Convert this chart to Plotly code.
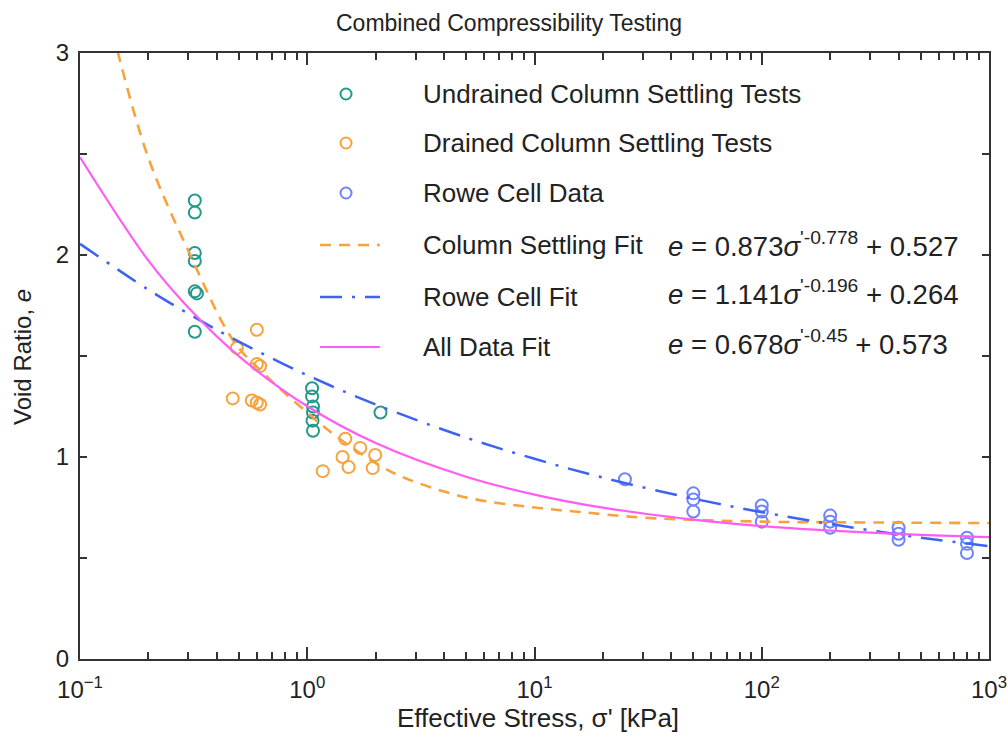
import plotly.graph_objects as go

# ---------------- data ----------------
undrained_sigma = [0.32, 0.32, 0.32, 0.32, 0.32, 0.327, 0.32,
                   1.05, 1.05, 1.06, 1.06, 1.055, 1.06, 2.1]
undrained_e = [2.27, 2.21, 2.01, 1.97, 1.82, 1.81, 1.62,
               1.34, 1.30, 1.25, 1.22, 1.18, 1.13, 1.22]

drained_sigma = [0.60, 0.49, 0.60, 0.62, 0.47, 0.57, 0.60, 0.62,
                 1.47, 1.71, 1.99, 1.43, 1.52, 1.94, 1.17]
drained_e = [1.63, 1.54, 1.46, 1.45, 1.29, 1.28, 1.27, 1.26,
             1.09, 1.045, 1.01, 1.00, 0.95, 0.945, 0.93]

rowe_sigma = [25, 50, 50, 50, 100, 100, 100, 200, 200, 200,
              400, 400, 400, 800, 800, 800]
rowe_e = [0.89, 0.82, 0.79, 0.73, 0.76, 0.73, 0.68, 0.71, 0.68, 0.65,
          0.65, 0.62, 0.59, 0.60, 0.57, 0.525]

col_fit_sigma = [0.14, 0.147, 0.2, 0.3, 0.47, 0.62, 1.0, 1.35, 2.0, 2.64,
                 5, 10, 15.8, 30, 100, 200, 1000]
col_fit_e = [3.1, 3.0, 2.48, 2.02, 1.58, 1.43, 1.22, 1.10, 0.97, 0.90,
             0.80, 0.75, 0.728, 0.70, 0.68, 0.677, 0.673]

fit_sigma = [0.1, 0.2, 0.3, 0.5, 1, 2, 5, 10, 20, 50, 100, 200, 500, 1000]
rowe_fit_e = [2.055, 1.828, 1.709, 1.571, 1.405, 1.260, 1.096, 0.991,
              0.898, 0.794, 0.727, 0.668, 0.601, 0.559]
all_fit_e = [2.484, 1.972, 1.739, 1.499, 1.251, 1.069, 0.902, 0.814,
             0.749, 0.690, 0.658, 0.636, 0.614, 0.603]

series_names = ["Undrained Column Settling Tests", "Drained Column Settling Tests",
                "Rowe Cell Data", "Column Settling Fit", "Rowe Cell Fit", "All Data Fit"]
eq_texts = ["<i>e</i> = 0.873<i>σ</i><sup>'-0.778</sup> + 0.527",
            "<i>e</i> = 1.141<i>σ</i><sup>'-0.196</sup> + 0.264",
            "<i>e</i> = 0.678<i>σ</i><sup>'-0.45</sup> + 0.573"]

x_major = [0.1, 1, 10, 100, 1000]
x_major_text = ["10<sup>−1</sup>", "10<sup>0</sup>", "10<sup>1</sup>",
                "10<sup>2</sup>", "10<sup>3</sup>"]
y_ticks = [0, 0.5, 1, 1.5, 2, 2.5, 3]
y_tick_text = ["0", "", "1", "", "2", "", "3"]

# ---------------- styling ----------------
TEAL = "#23998c"
ORANGE = "#f7a23c"
BLUE_PT = "#6f82ff"
BLUE_LN = "#3d63f0"
MAGENTA = "#ff5cf5"
FONT = "Liberation Sans, Arial, Helvetica, sans-serif"
TXT = "#222222"

L, R, T, B = 80, 989, 53, 659
def px(x):
    return (x - L) / (R - L)
def py(y):
    return (B - y) / (B - T)

fig = go.Figure()

mk = dict(symbol="circle-open", size=12, line=dict(width=2))
fig.add_trace(go.Scatter(x=undrained_sigma, y=undrained_e, mode="markers",
                         name=series_names[0], marker=dict(**mk, color=TEAL)))
fig.add_trace(go.Scatter(x=drained_sigma, y=drained_e, mode="markers",
                         name=series_names[1], marker=dict(**mk, color=ORANGE)))
fig.add_trace(go.Scatter(x=rowe_sigma, y=rowe_e, mode="markers",
                         name=series_names[2], marker=dict(**mk, color=BLUE_PT)))

line_styles = [dict(color=ORANGE, width=2.6, dash="11px,8px"),
               dict(color=BLUE_LN, width=2.5, dash="22px,10px,3px,10px"),
               dict(color=MAGENTA, width=2.2)]
fig.add_trace(go.Scatter(x=col_fit_sigma, y=col_fit_e, mode="lines", name=series_names[3],
                         line=dict(**line_styles[0], shape="spline")))
fig.add_trace(go.Scatter(x=fit_sigma, y=rowe_fit_e, mode="lines", name=series_names[4],
                         line=dict(**line_styles[1], shape="spline")))
fig.add_trace(go.Scatter(x=fit_sigma, y=all_fit_e, mode="lines", name=series_names[5],
                         line=dict(**line_styles[2], shape="spline")))

# ---------------- manual legend ----------------
row_y = [94, 143, 193, 245, 297, 347]
marker_colors = [TEAL, ORANGE, BLUE_PT]
shapes = []
for i in range(3):
    shapes.append(dict(type="circle", xref="paper", yref="paper",
                       xsizemode="pixel", ysizemode="pixel",
                       xanchor=px(346), yanchor=py(row_y[i]),
                       x0=-5.5, x1=5.5, y0=-5.5, y1=5.5,
                       line=dict(color=marker_colors[i], width=2)))
for i in range(3):
    shapes.append(dict(type="line", xref="paper", yref="paper",
                       x0=px(320), x1=px(380), y0=py(row_y[3 + i]), y1=py(row_y[3 + i]),
                       line=line_styles[i]))
for name, y in zip(series_names, row_y):
    fig.add_annotation(text=name, xref="paper", yref="paper", x=px(421), y=py(y),
                       xanchor="left", yanchor="middle", showarrow=False,
                       font=dict(size=26, color=TXT, family=FONT))
for txt, y in zip(eq_texts, [245, 292, 342]):
    fig.add_annotation(text=txt, xref="paper", yref="paper", x=px(666), y=py(y),
                       xanchor="left", yanchor="middle", showarrow=False,
                       font=dict(size=27.5, color=TXT, family=FONT))

# axis titles
fig.add_annotation(text="Effective Stress, σ' [kPa]", xref="paper", yref="paper",
                   x=px(538), y=py(718), xanchor="center", yanchor="middle",
                   showarrow=False, font=dict(size=26, color=TXT, family=FONT))
fig.add_annotation(text="Void Ratio, <i>e</i>", xref="paper", yref="paper",
                   x=px(22), y=py(357), xanchor="center", yanchor="middle", textangle=-90,
                   showarrow=False, font=dict(size=24, color=TXT, family=FONT))

axis_common = dict(showline=True, linecolor="#333", linewidth=2, mirror="ticks",
                   ticks="inside", tickcolor="#333", showgrid=False, zeroline=False,
                   automargin=False, ticklabeloverflow="allow",
                   tickfont=dict(size=24, color=TXT, family=FONT))

fig.update_layout(
    width=1007, height=733,
    margin=dict(l=L, r=1007 - R, t=T, b=733 - B),
    paper_bgcolor="white", plot_bgcolor="white",
    font=dict(family=FONT, color=TXT),
    showlegend=False,
    shapes=shapes,
    title=dict(text="Combined Compressibility Testing", x=509 / 1007, xanchor="center",
               y=1 - 23 / 733, yanchor="middle", font=dict(size=23, color=TXT, family=FONT)),
    xaxis=dict(type="log", range=[-1, 3], tickmode="array", tickvals=x_major,
               ticktext=x_major_text, ticklen=12, tickwidth=1.5, ticklabelstandoff=8,
               minor=dict(tickmode="array",
                          tickvals=[m * d for d in [0.1, 1, 10, 100] for m in range(2, 10)],
                          ticks="inside", ticklen=7, tickcolor="#333", tickwidth=1.5),
               **axis_common),
    yaxis=dict(range=[0, 3], tickmode="array", tickvals=y_ticks, ticktext=y_tick_text,
               ticklen=7, tickwidth=1.5, ticklabelstandoff=4,
               **axis_common),
)

fig.write_html("out.html")
